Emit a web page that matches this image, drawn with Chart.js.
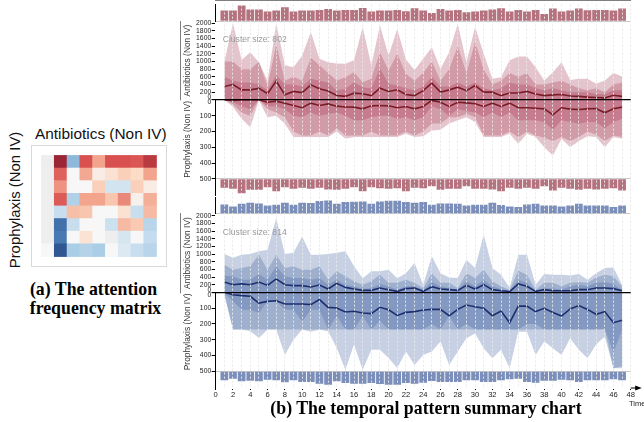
<!DOCTYPE html>
<html><head><meta charset="utf-8">
<script src="https://cdn.jsdelivr.net/npm/chart.js@4.4.1/dist/chart.umd.min.js"></script>
<style>
html,body{margin:0;padding:0;background:#fff;width:644px;height:422px;overflow:hidden;position:relative;font-family:"Liberation Sans",Arial,sans-serif;}
.abs{position:absolute;white-space:nowrap;line-height:1;}
.c{transform:translate(-50%,-50%);}
.cap{font-family:"Liberation Serif","Times New Roman",serif;font-weight:bold;font-size:17.8px;color:#000;}
#main{position:absolute;left:180px;top:0;}
#hmwrap{position:absolute;left:31px;top:144.5px;border:1.5px solid #d8d8d8;width:134px;height:120px;background:#fff;}
#hm{display:block;}
</style></head><body>
<canvas id="main" width="464" height="400"></canvas>
<div id="hmwrap"><canvas id="hm" width="134" height="120"></canvas></div>
<div class="abs c" style="left:100.8px;top:134px;font-size:15.4px;color:#111;">Antibiotics (Non IV)</div>
<div class="abs" style="left:15px;top:200px;font-size:14.9px;color:#111;transform:translate(-50%,-50%) rotate(-90deg);">Prophylaxis (Non IV)</div>
<div class="abs c cap" style="left:93.5px;top:290px;">(a) The attention</div>
<div class="abs c cap" style="left:95.5px;top:309px;">frequency matrix</div>
<div class="abs c cap" style="left:426px;top:409px;">(b) The temporal pattern summary chart</div>
<div class="abs" style="left:222.7px;top:38.7px;transform:translateY(-50%);font-size:8.6px;color:#9a9a9a;">Cluster size: 802</div>
<div class="abs" style="left:222.7px;top:231.7px;transform:translateY(-50%);font-size:8.6px;color:#9a9a9a;">Cluster size: 814</div>
<div class="abs" style="left:629px;top:403.5px;transform:translateY(-50%);font-size:7.5px;color:#222;">Time</div>
<script>
// ---------- data ----------
const TIMES = [1,2,3,4,5,6,7,8,9,10,11,12,13,14,15,16,17,18,19,20,21,22,23,24,25,26,27,28,29,30,31,32,33,34,35,36,37,38,39,40,41,42,43,44,45,46,47];
const UP_TICKS = [0,200,400,600,800,1000,1200,1400,1600,1800,2000];
const DOWN_TICKS = [0,100,200,300,400,500];

// Cluster 1 (red)
const A_BAR_TOP = [32,32,47,35,35,29,32,42,29,32,32,34,37,32,34,34,40,29,32,32,34,30,39,32,25,37,32,34,27,29,32,35,39,29,34,29,34,22,38,29,32,38,33,34,34,32,38];
const A_BAR_BOT = [27,30,43,33,33,25,37,25,30,27,30,27,32,33,30,25,37,25,28,30,28,37,27,28,22,33,30,30,22,30,30,32,37,27,30,27,30,22,35,27,30,33,30,32,30,28,35];
const A_ABX_OUTER = [1000,2000,1040,1240,980,500,2000,900,850,1150,1770,1070,980,950,940,1030,1900,900,1940,1160,1850,1050,780,1070,1375,810,1240,1980,980,1900,1200,550,590,1030,1130,1130,850,505,720,980,520,550,550,420,505,700,610];
const A_ABX_MID = [1000,1000,800,800,1000,350,1450,500,600,500,1100,900,700,505,590,720,460,550,1240,765,1200,680,500,700,1000,500,800,1400,700,1500,800,400,500,700,600,700,400,400,450,500,400,300,250,300,200,400,450];
const A_ABX_INNER = [600,500,450,450,400,250,650,400,400,350,550,500,450,245,290,460,330,300,810,420,375,300,250,350,600,350,350,450,350,450,300,250,300,450,400,400,300,250,300,250,200,200,200,150,150,250,250];
const A_ABX_MEDIAN = [350,400,260,260,300,160,490,130,220,190,390,290,230,113,90,174,157,110,305,218,261,140,110,240,435,200,260,330,240,375,200,200,110,180,180,220,150,110,130,140,100,90,70,60,50,120,90];
const A_PRO_OUTER = [0,45,120,173,5,110,100,152,236,236,236,236,236,200,247,236,236,236,236,236,236,215,236,230,194,190,150,130,110,140,236,236,236,215,278,215,236,300,352,247,300,260,230,236,300,236,247];
const A_PRO_MID = [0,30,80,100,0,60,80,110,200,226,226,200,226,180,226,226,226,200,226,226,226,200,226,200,150,150,110,110,90,110,226,226,226,200,236,200,226,240,260,236,260,236,200,220,260,226,236];
const A_PRO_INNER = [0,15,40,60,0,40,40,60,100,110,80,100,90,80,100,130,130,110,100,100,120,110,130,110,40,60,100,60,70,80,110,80,110,80,130,130,130,140,190,130,140,150,140,140,180,140,120];
const A_PRO_MEDIAN = [0,4,0,0,0,15,8,21,36,50,21,36,26,40,45,46,57,38,36,38,50,42,57,42,4,15,42,15,19,25,42,21,42,21,50,50,53,57,95,50,59,61,57,55,82,57,46];

// Cluster 2 (blue)
const B_BAR_TOP = [28,22,30,33,31,25,27,33,27,33,32,38,40,30,35,36,37,30,37,39,39,35,33,35,27,31,31,30,25,27,27,33,26,22,20,28,30,25,25,22,25,30,25,25,25,20,25];
const B_BAR_BOT = [27,22,30,28,30,25,27,33,27,32,32,37,40,30,35,37,37,35,38,40,40,35,37,34,29,32,32,32,27,27,32,32,27,24,22,32,34,28,28,25,27,32,27,27,27,24,27];
const B_ABX_OUTER = [1000,900,980,1000,1070,1110,1940,1000,1030,1460,980,980,1000,1030,1070,680,370,550,550,590,370,500,765,200,940,500,390,375,850,635,1500,635,460,120,980,980,200,480,460,460,440,480,330,500,635,650,200];
const B_ABX_MID = [720,590,635,680,980,590,980,635,680,590,590,680,330,550,420,290,200,290,460,250,250,330,250,110,500,250,250,110,500,375,590,290,160,60,565,460,70,250,250,160,250,270,250,390,460,420,150];
const B_ABX_INNER = [435,420,330,330,480,330,680,420,375,375,330,375,200,330,200,160,95,110,220,160,70,160,160,70,270,160,110,70,290,160,330,160,90,30,330,250,30,110,110,70,160,200,160,250,270,220,70];
const B_ABX_MEDIAN = [270,200,220,200,270,180,350,200,175,175,140,190,87,235,130,87,52,52,113,70,26,96,113,26,148,87,70,52,183,87,200,70,40,20,218,157,26,70,40,40,40,70,70,113,113,96,40];
const B_PRO_OUTER = [20,236,236,247,289,236,236,395,300,236,250,236,247,352,490,331,490,363,363,415,479,375,460,397,375,312,460,375,291,260,354,418,363,481,249,249,397,312,354,397,291,363,418,331,280,481,481];
const B_PRO_MID = [5,236,236,236,236,236,236,236,236,236,236,236,236,236,236,236,236,236,236,236,236,236,236,236,236,236,236,236,236,236,236,236,236,236,236,236,236,236,236,236,236,236,236,236,236,480,470];
const B_PRO_INNER = [5,57,110,110,131,57,57,110,110,184,110,110,236,150,236,236,150,236,180,236,236,236,236,236,200,236,150,236,200,236,236,236,236,236,236,200,200,236,236,236,236,236,236,236,230,380,240];
const B_PRO_MEDIAN = [0,15,21,25,68,57,53,74,74,74,78,46,95,99,124,120,131,135,95,110,146,127,122,112,108,108,148,108,80,91,101,148,118,192,87,87,122,101,127,150,105,84,108,139,122,192,177];

// Attention frequency matrix (rows x columns), null = no value
const MATRIX = [
  [null, 0.95,-0.55, 0.75, 0.50, 0.75, 0.75, 0.73, 0.85],
  [null, 0.70, 0.00, 0.48, 0.10, 0.20, 0.30, 0.25, 0.50],
  [null, 0.55, 0.00, 0.00, 0.30,-0.25,-0.25, 0.30, 0.10],
  [null, 0.72,-0.42, 0.50, 0.50, 0.35, 0.58, 0.06, 0.45],
  [null,-0.30, 0.38, 0.35, 0.00, 0.00, 0.20,-0.30, 0.40],
  [null,-0.82,-0.30, 0.00, 0.00,-0.28, 0.40, 0.33,-0.38],
  [null,-0.77, 0.00, 0.18, 0.00, null,-0.22, 0.00,-0.32],
  [0.00,-0.95,-0.45,-0.40,-0.45, 0.00,-0.18,-0.30,-0.38]
];

// ---------- styles ----------
const FONT = "'Liberation Sans', Arial, sans-serif";
const RED_BAR = '#b5727f', RED_BAND = 'rgba(160,40,70,0.27)', RED_LINE = '#7a1c28';
const BLUE_BAR = '#7b8fba', BLUE_BAND = 'rgba(62,95,158,0.29)', BLUE_LINE = '#1f2e6e';
const AXIS_W = 35.7;

const pts = (ys) => TIMES.map((t, i) => ({x: t, y: ys[i]}));
function band(ys, axis, color, order) {
  return {type: 'line', data: pts(ys), yAxisID: axis, borderWidth: 0, borderColor: 'rgba(0,0,0,0)',
    backgroundColor: color, fill: 'origin', pointRadius: 0, tension: 0, order};
}
function median(ys, axis, color) {
  return {type: 'line', data: pts(ys), yAxisID: axis, borderColor: color, borderWidth: 1.6,
    pointRadius: 0, fill: false, tension: 0, order: 0};
}
function bars(ys, axis, color) {
  return {type: 'bar', data: pts(ys), yAxisID: axis, backgroundColor: color, borderWidth: 0,
    grouped: false, barPercentage: 0.9, categoryPercentage: 1, order: 5};
}

const fitW = (s) => { s.width = AXIS_W; };
function barAxis(weight, reverse) {
  return {position: 'left', stack: 'v', stackWeight: 16.7, weight, min: 0, max: 50, reverse,
    afterFit: fitW, afterBuildTicks: (s) => { s.ticks = [{value: 0}]; },
    ticks: {display: false},
    grid: {drawTicks: false, color: '#c9c9c9', lineWidth: 1},
    border: {color: '#000', width: 1}};
}
function upAxis(weight) {
  return {position: 'left', stack: 'v', stackWeight: 78.6, weight, min: 0, max: 2050,
    afterFit: fitW, afterBuildTicks: (s) => { s.ticks = UP_TICKS.map(v => ({value: v})); },
    ticks: {autoSkip: false, padding: 0.5, color: '#222',
      font: (c) => ({family: FONT, size: 6.8, lineHeight: (c.tick && c.tick.value === 0) ? 0.7 : 1.2}),
      callback: (v) => v === 0 ? ['0', ''] : String(v)},
    grid: {z: 2, tickLength: 4, tickColor: '#000', tickWidth: 1,
      lineWidth: (c) => (c.tick && c.tick.value === 0) ? 1.3 : 1,
      color: (c) => (c.tick && c.tick.value === 0) ? '#000' : 'rgba(0,0,0,0)'},
    border: {color: '#000', width: 1},
    title: {display: true, text: 'Antibiotics (Non IV)', color: '#333', font: {family: FONT, size: 8.4}, padding: {top: 3, bottom: 0}}};
}
function downAxis(weight) {
  return {position: 'left', stack: 'v', stackWeight: 79, weight, min: 0, max: 500, reverse: true,
    afterFit: fitW, afterBuildTicks: (s) => { s.ticks = DOWN_TICKS.map(v => ({value: v})); },
    ticks: {autoSkip: false, padding: 0.5, color: '#222',
      font: (c) => ({family: FONT, size: 6.8, lineHeight: (c.tick && c.tick.value === 0) ? 0.7 : 1.2}),
      callback: (v) => v === 0 ? ['', '0'] : String(v)},
    grid: {tickLength: 4, tickColor: '#000', tickWidth: 1, color: 'rgba(0,0,0,0)'},
    border: {color: '#000', width: 1},
    title: {display: true, text: 'Prophylaxis (Non IV)', color: '#333', font: {family: FONT, size: 8.4}, padding: {top: 3, bottom: 0}}};
}

const arrowPlugin = {
  id: 'timeArrow',
  afterDraw(chart) {
    const {ctx, chartArea: {right, bottom}} = chart;
    ctx.save();
    ctx.strokeStyle = '#000'; ctx.lineWidth = 1;
    ctx.beginPath(); ctx.moveTo(right, bottom); ctx.lineTo(right + 6, bottom); ctx.stroke();
    ctx.fillStyle = '#000';
    ctx.beginPath(); ctx.moveTo(right + 11, bottom); ctx.lineTo(right + 4.5, bottom - 2.6); ctx.lineTo(right + 4.5, bottom + 2.6); ctx.closePath(); ctx.fill();
    ctx.restore();
  }
};

new Chart(document.getElementById('main'), {
  type: 'line',
  data: {datasets: [
    median(A_ABX_MEDIAN, 'aUp', RED_LINE), median(A_PRO_MEDIAN, 'aDown', RED_LINE),
    band(A_ABX_INNER, 'aUp', RED_BAND, 1), band(A_ABX_MID, 'aUp', RED_BAND, 2), band(A_ABX_OUTER, 'aUp', RED_BAND, 3),
    band(A_PRO_INNER, 'aDown', RED_BAND, 1), band(A_PRO_MID, 'aDown', RED_BAND, 2), band(A_PRO_OUTER, 'aDown', RED_BAND, 3),
    bars(A_BAR_TOP, 'aTop', RED_BAR), bars(A_BAR_BOT, 'aBot', RED_BAR),
    median(B_ABX_MEDIAN, 'bUp', BLUE_LINE), median(B_PRO_MEDIAN, 'bDown', BLUE_LINE),
    band(B_ABX_INNER, 'bUp', BLUE_BAND, 1), band(B_ABX_MID, 'bUp', BLUE_BAND, 2), band(B_ABX_OUTER, 'bUp', BLUE_BAND, 3),
    band(B_PRO_INNER, 'bDown', BLUE_BAND, 1), band(B_PRO_MID, 'bDown', BLUE_BAND, 2), band(B_PRO_OUTER, 'bDown', BLUE_BAND, 3),
    bars(B_BAR_TOP, 'bTop', BLUE_BAR), bars(B_BAR_BOT, 'bBot', BLUE_BAR)
  ]},
  options: {
    responsive: false, animation: false, events: [], devicePixelRatio: 1,
    layout: {padding: {left: 0, right: 13.3, top: 4, bottom: 1}},
    plugins: {legend: {display: false}, tooltip: {enabled: false}},
    scales: {
      x: {type: 'linear', position: 'bottom', min: 0, max: 48, offset: false,
        afterFit: (s) => { s.height = 11; },
        ticks: {stepSize: 1, autoSkip: false, maxRotation: 0, padding: 0, color: '#222',
          font: {family: FONT, size: 7.6}, callback: (v) => (v % 2 === 0) ? String(v) : ''},
        grid: {z: 1, offset: false, tickLength: 2, tickWidth: 1,
          tickColor: (c) => (c.tick && c.tick.value % 2 === 0) ? '#000' : 'rgba(0,0,0,0)',
          color: (c) => (c.tick && c.tick.value > 0) ? 'rgba(232,232,232,0.95)' : 'rgba(0,0,0,0)'},
        border: {display: true, color: '#000', width: 1, dash: [2, 2]}},
      aTop: barAxis(9, false),
      aUp: upAxis(8),
      aDown: downAxis(7),
      aBot: barAxis(6, true),
      gap: {position: 'left', stack: 'v', stackWeight: 1.6, weight: 5, min: 0, max: 1, afterFit: fitW,
        ticks: {display: false}, grid: {display: false}, border: {display: false}},
      bTop: barAxis(4, false),
      bUp: upAxis(3),
      bDown: downAxis(2),
      bBot: barAxis(1, true)
    }
  },
  plugins: [arrowPlugin]
});

// ---------- heatmap ----------
const POS_STOPS = [[0,[247,247,247]],[0.25,[252,219,199]],[0.5,[242,164,140]],[0.75,[217,80,80]],[1,[140,26,45]]];
const NEG_STOPS = [[0,[244,246,250]],[0.25,[210,228,240]],[0.5,[160,200,228]],[0.75,[75,125,182]],[1,[42,78,138]]];
function cmap(v) {
  if (v === null) return '#eeeeee';
  const stops = v >= 0 ? POS_STOPS : NEG_STOPS;
  const a = Math.min(1, Math.abs(v));
  for (let i = 1; i < stops.length; i++) {
    if (a <= stops[i][0]) {
      const [p0, c0] = stops[i - 1], [p1, c1] = stops[i];
      const t = (a - p0) / (p1 - p0);
      const c = c0.map((x, k) => Math.round(x + (c1[k] - x) * t));
      return `rgb(${c[0]},${c[1]},${c[2]})`;
    }
  }
  return 'rgb(' + stops[stops.length - 1][1].join(',') + ')';
}
const cells = [], cellColors = [];
MATRIX.forEach((row, r) => row.forEach((v, c) => { cells.push({x: c, y: r}); cellColors.push(cmap(v)); }));
new Chart(document.getElementById('hm'), {
  type: 'scatter',
  data: {datasets: [{data: cells, pointStyle: 'rect', pointRadius: 9.5, pointHoverRadius: 9.5,
    backgroundColor: cellColors, borderWidth: 0, clip: false}]},
  options: {
    responsive: false, animation: false, events: [], devicePixelRatio: 1,
    layout: {padding: 0},
    plugins: {legend: {display: false}, tooltip: {enabled: false}},
    scales: {x: {type: 'linear', display: false, min: -0.5, max: 8.5},
             y: {type: 'linear', display: false, min: -0.5, max: 7.5, reverse: true}}
  }
});
</script>
</body></html>
